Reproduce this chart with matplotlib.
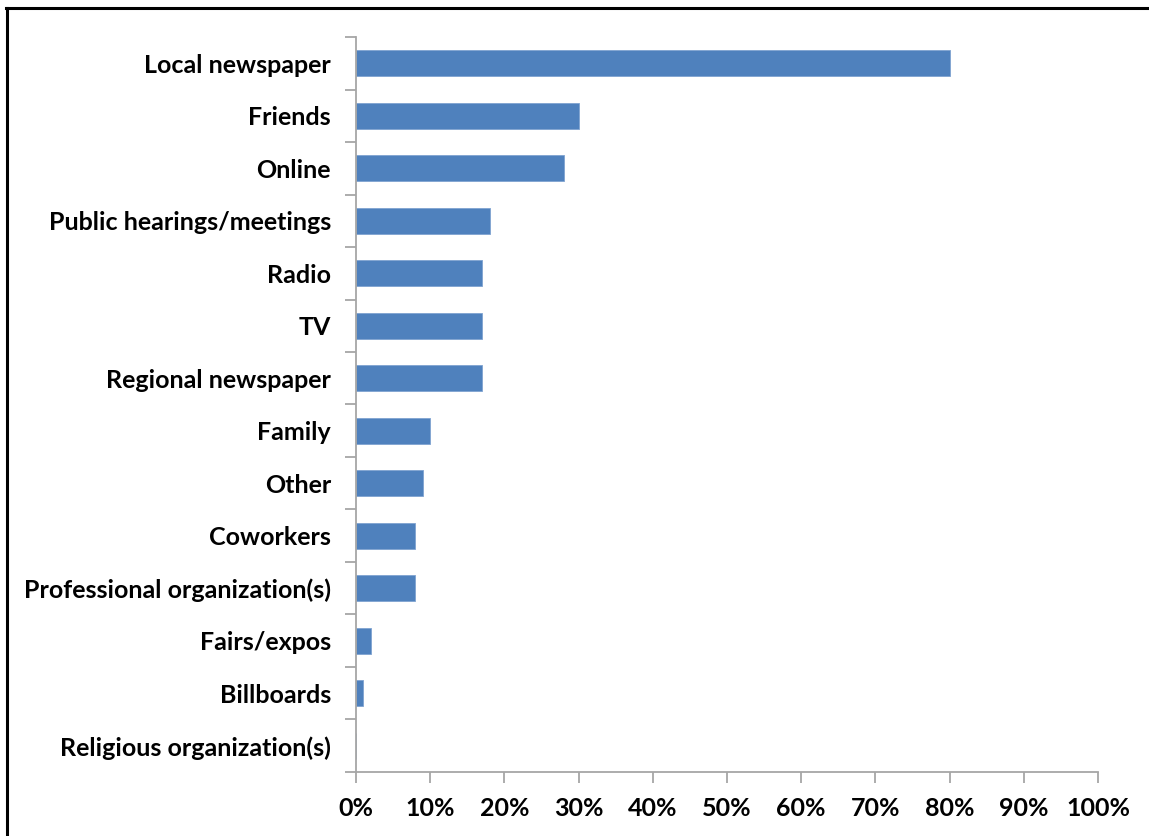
import matplotlib

matplotlib.use("Agg")
import matplotlib.pyplot as plt
from matplotlib.lines import Line2D
from matplotlib.ticker import FixedLocator, PercentFormatter

plt.rcParams["font.family"] = ["Lato", "DejaVu Sans"]

CATEGORIES = [
    "Local newspaper",
    "Friends",
    "Online",
    "Public hearings/meetings",
    "Radio",
    "TV",
    "Regional newspaper",
    "Family",
    "Other",
    "Coworkers",
    "Professional organization(s)",
    "Fairs/expos",
    "Billboards",
    "Religious organization(s)",
]
SHARES = [80, 30, 28, 18, 17, 17, 17, 10, 9, 8, 8, 2, 1, 0]
X_TICKS = [0, 10, 20, 30, 40, 50, 60, 70, 80, 90, 100]

BAR_COLOR = "#4F81BD"
AXIS_COLOR = "#A6A6A6"

fig = plt.figure(figsize=(11.49, 8.36), dpi=100)
ax = fig.add_axes([0.3098, 0.0766, 0.6459, 0.8791])

n = len(CATEGORIES)
ypos = list(range(n))
ax.barh(ypos, SHARES, height=0.5, color=BAR_COLOR, edgecolor="#7FA3D1", linewidth=0.6, zorder=2)

ax.set_xlim(0, 100)
ax.set_ylim(n - 0.5, -0.5)

ax.xaxis.set_major_locator(FixedLocator(X_TICKS))
ax.xaxis.set_major_formatter(PercentFormatter(decimals=0))
ax.set_yticks(ypos)
ax.set_yticklabels(CATEGORIES)
# category ticks sit between the bars
ax.set_yticks([i - 0.5 for i in range(n + 1)], minor=True)
ax.tick_params(axis="y", which="major", length=0, pad=18)
ax.tick_params(axis="y", which="minor", length=8, width=1.3, color=AXIS_COLOR, direction="out")
ax.tick_params(axis="x", which="major", length=8, width=1.3, color=AXIS_COLOR, direction="out", pad=10)

for lab in ax.get_yticklabels() + ax.get_xticklabels():
    lab.set_fontweight("bold")
    lab.set_fontsize(18)

for side in ("top", "right"):
    ax.spines[side].set_visible(False)
for side in ("left", "bottom"):
    ax.spines[side].set_color(AXIS_COLOR)
    ax.spines[side].set_linewidth(1.3)

# outer frame: only top and left edges
fig.add_artist(Line2D([6 / 1149, 1.0], [1 - 7.5 / 836, 1 - 7.5 / 836], color="black", linewidth=2.2,
                      transform=fig.transFigure))
fig.add_artist(Line2D([6.5 / 1149, 6.5 / 1149], [0.0, 1 - 7.5 / 836], color="black", linewidth=2.2,
                      transform=fig.transFigure))

fig.savefig("out.png", dpi=100)
